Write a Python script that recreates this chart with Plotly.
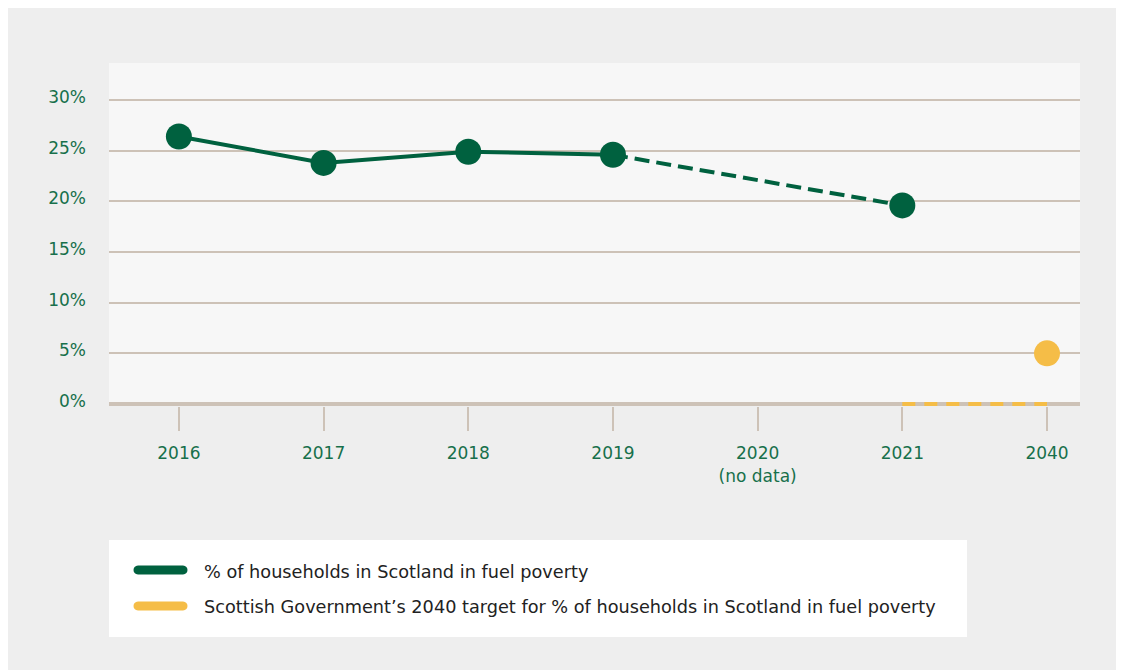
import plotly.graph_objects as go

# ---- data ----
categories = ["2016", "2017", "2018", "2019", "2020<br>(no data)", "2021", "2040"]
years_actual = ["2016", "2017", "2018", "2019"]
values_actual = [26.4, 23.8, 24.9, 24.6]
years_dashed = ["2019", "2021"]
values_dashed = [24.6, 19.6]
year_2021 = ["2021"]
value_2021 = [19.6]
target_years = ["2021", "2040"]
target_baseline = [0, 0]
target_year = ["2040"]
target_value = [5]
y_ticks = [0, 5, 10, 15, 20, 25, 30]
y_tick_labels = ["0%", "5%", "10%", "15%", "20%", "25%", "30%"]
legend_labels = ["% of households in Scotland in fuel poverty",
                 "Scottish Government\u2019s 2040 target for % of households in Scotland in fuel poverty"]

GREEN = "#00613f"
YELLOW = "#f5bd47"
GRID = "#cdc2b7"
TEXT_GREEN = "#17704b"
FONT = "DejaVu Sans"

key = {c.split("<br>")[0]: i for i, c in enumerate(categories)}
def xs(labels):
    return [key[l] for l in labels]

fig = go.Figure()
fig.add_trace(go.Scatter(x=xs(years_dashed), y=values_dashed, mode="lines",
                         line=dict(color=GREEN, width=4, dash="15px,7px"),
                         name=legend_labels[0], showlegend=False, hoverinfo="skip"))
fig.add_trace(go.Scatter(x=xs(target_years), y=target_baseline, mode="lines",
                         line=dict(color=YELLOW, width=4, dash="13px,9px"),
                         name=legend_labels[1], showlegend=False, hoverinfo="skip"))
fig.add_trace(go.Scatter(x=xs(years_actual), y=values_actual, mode="lines+markers",
                         line=dict(color=GREEN, width=4),
                         marker=dict(color=GREEN, size=26),
                         name=legend_labels[0], showlegend=False, cliponaxis=False))
fig.add_trace(go.Scatter(x=xs(year_2021), y=value_2021, mode="markers",
                         marker=dict(color=GREEN, size=26),
                         name=legend_labels[0], showlegend=False, cliponaxis=False))
fig.add_trace(go.Scatter(x=xs(target_year), y=target_value, mode="markers",
                         marker=dict(color=YELLOW, size=26),
                         name=legend_labels[1], showlegend=False, cliponaxis=False))

# page offset (body margin) -> figure coordinates
OX, OY = 8, 8
W, H = 1124 - OX, 670 - OY
L, R, T, B = 109 - OX, 1080 - OX, 63 - OY, 406 - OY

def px(x):  # screen x -> paper fraction
    return (x - OX - L) / (R - L)
def py(y):
    return (B - (y - OY)) / (B - T)

shapes = []
# legend box
shapes.append(dict(type="rect", xref="paper", yref="paper", x0=px(109), x1=px(967), y0=py(540), y1=py(637),
                   fillcolor="white", line=dict(width=0), layer="below"))

def pill(x1, x2, c, h, color):
    k = h * 1.33
    pts = [
        ("M", [(x1, c - h)]),
        ("L", [(x2, c - h)]),
        ("C", [(x2 + k, c - h), (x2 + k, c + h), (x2, c + h)]),
        ("L", [(x1, c + h)]),
        ("C", [(x1 - k, c + h), (x1 - k, c - h), (x1, c - h)]),
    ]
    s = ""
    for cmd, ps in pts:
        s += cmd + " ".join(f"{px(a):.6f},{py(b):.6f}" for a, b in ps) + " "
    s += "Z"
    return dict(type="path", xref="paper", yref="paper", path=s,
                fillcolor=color, line=dict(width=0))

shapes.append(pill(138, 183, 570, 4.5, GREEN))
shapes.append(pill(138, 183, 606, 4.5, YELLOW))

annotations = []
for lbl, yy in zip(legend_labels, [572, 607]):
    annotations.append(dict(text=lbl, xref="paper", yref="paper", x=px(202), y=py(yy),
                            xanchor="left", yanchor="middle", showarrow=False,
                            font=dict(family=FONT, size=17.7, color="#222222")))

fig.update_layout(
    width=W, height=H,
    margin=dict(l=L, r=W - R, t=T, b=H - B, pad=0),
    paper_bgcolor="#eeeeee",
    plot_bgcolor="#f7f7f7",
    showlegend=False,
    shapes=shapes,
    annotations=annotations,
    font=dict(family=FONT, size=17, color=TEXT_GREEN),
)
fig.update_xaxes(
    range=[-0.483, 6.228],
    tickvals=list(range(len(categories))), ticktext=categories,
    showgrid=False, zeroline=False, showline=False,
    ticks="outside", ticklen=24, tickwidth=2, tickcolor=GRID,
    ticklabelstandoff=8,
    tickfont=dict(family=FONT, size=17, color=TEXT_GREEN),
)
fig.update_yaxes(
    range=[-0.2, 33.66],
    tickvals=y_ticks, ticktext=y_tick_labels,
    showgrid=True, gridcolor=GRID, gridwidth=1.5,
    zeroline=True, zerolinecolor=GRID, zerolinewidth=3.5,
    showline=False, ticks="", ticklabelstandoff=22, ticklabelshift=-3,
    tickfont=dict(family=FONT, size=17, color=TEXT_GREEN),
)

fig.write_html("out.html")
